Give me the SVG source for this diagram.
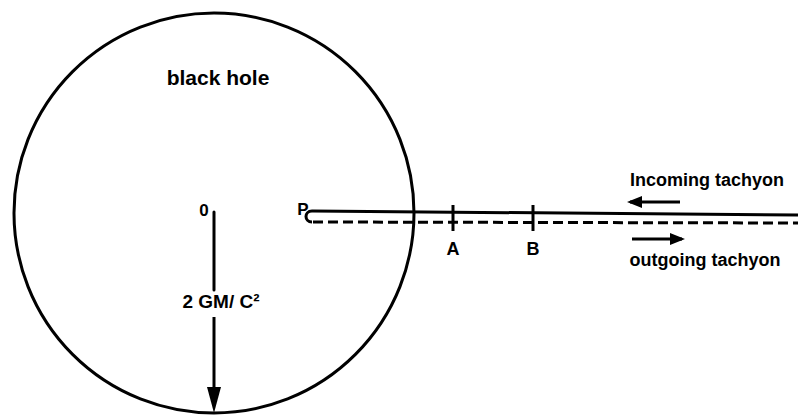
<svg xmlns="http://www.w3.org/2000/svg" width="798" height="415" viewBox="0 0 798 415">
<style>
text{font-family:"Liberation Sans",Arial,sans-serif;font-weight:bold;fill:#000}
.ln{stroke:#000;stroke-width:3;fill:none}
.dash{stroke:#000;stroke-width:3;fill:none;stroke-dasharray:10 5}
</style>
<defs>
<marker id="ah" markerWidth="5" markerHeight="4" refX="4" refY="2" orient="auto" markerUnits="strokeWidth">
<path d="M0,0 L5,2 L0,4 Z" fill="#000"/>
</marker>
</defs>
<rect width="798" height="415" fill="#fff"/>
<g id="blackhole">
<circle cx="214" cy="213" r="200" class="ln"/>
<text x="218" y="85" font-size="21" text-anchor="middle">black hole</text>
</g>
<g id="origin">
<text x="204" y="216" font-size="17" text-anchor="middle">0</text>
</g>
<g id="radius">
<text x="221" y="308" font-size="19" text-anchor="middle">2 GM/ C²</text>
</g>
<g id="pointP">
<text x="303" y="215" font-size="17" text-anchor="middle">P</text>
</g>
<g id="labelA"><text x="453" y="255" font-size="18" text-anchor="middle">A</text></g>
<g id="labelB"><text x="533" y="255" font-size="18" text-anchor="middle">B</text></g>
<g id="incoming"><text x="707" y="186" font-size="18" text-anchor="middle">Incoming tachyon</text></g>
<g id="outgoing"><text x="705" y="266" font-size="18" text-anchor="middle">outgoing tachyon</text></g>
<g id="connectors">
<line x1="214" y1="212" x2="214" y2="290" class="ln" stroke-linecap="round"/>
<line x1="214" y1="317" x2="214" y2="392" class="ln"/>
<polygon points="207,387 221,387 214,413" fill="#000"/>
<path d="M798,215 L312,211 C304,211 304,222 312,222" class="ln"/>
<line x1="313" y1="222" x2="798" y2="223" class="dash"/>
<line x1="453" y1="205" x2="453" y2="231" class="ln"/>
<line x1="533" y1="205" x2="533" y2="231" class="ln"/>
<line x1="680" y1="202" x2="630" y2="202" class="ln" marker-end="url(#ah)"/>
<line x1="632" y1="239" x2="682" y2="239" class="ln" marker-end="url(#ah)"/>
</g>
</svg>
